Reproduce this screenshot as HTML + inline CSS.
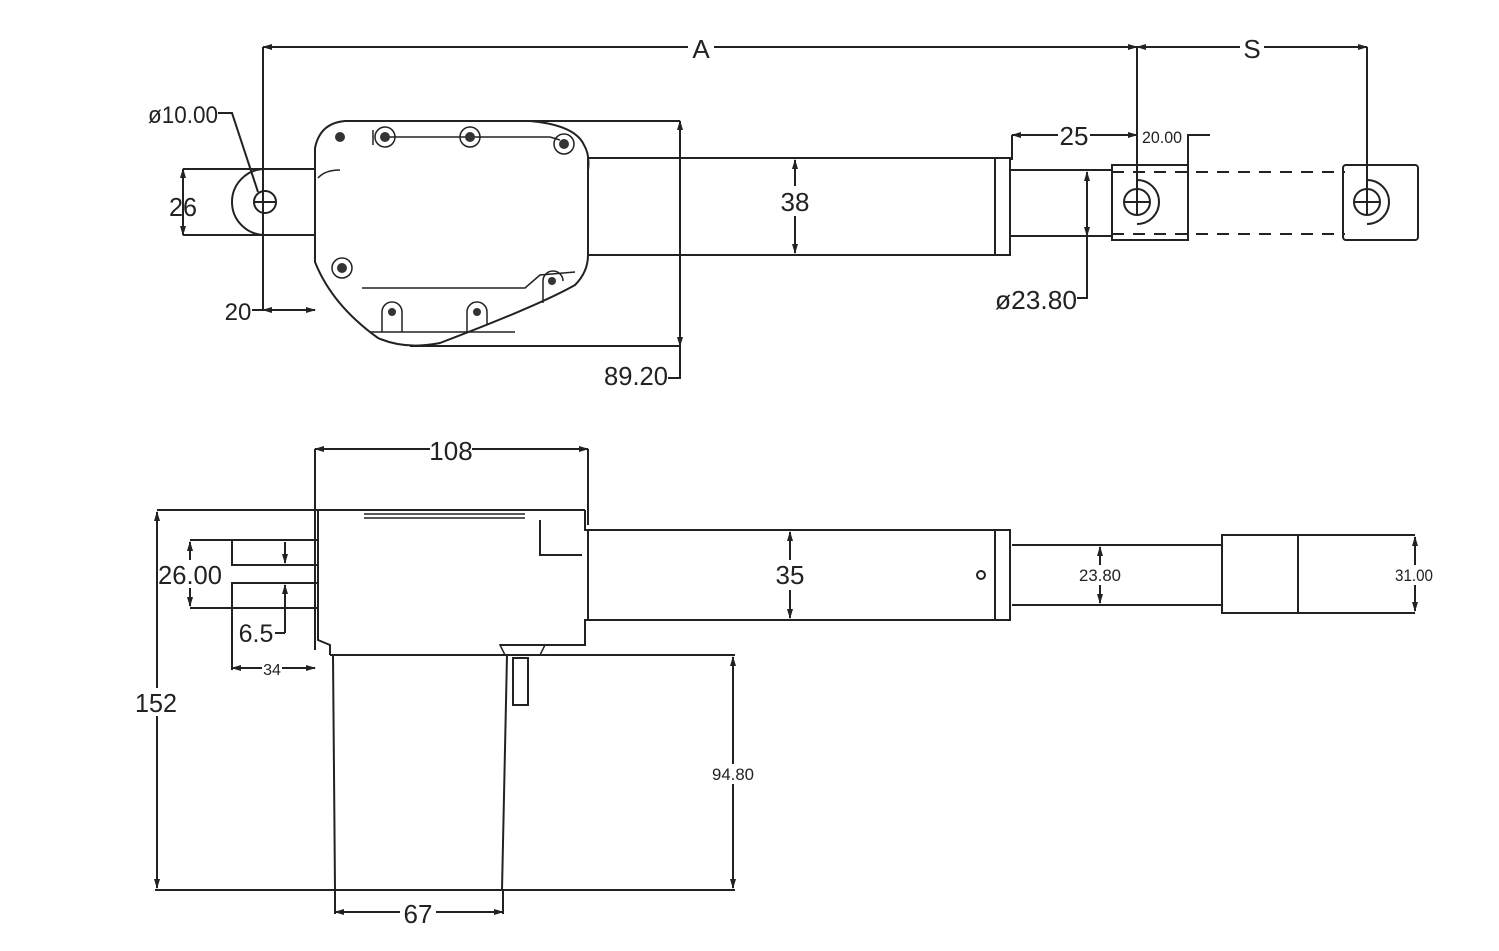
<!DOCTYPE html>
<html><head><meta charset="utf-8"><style>
html,body{margin:0;padding:0;background:#fff;}
svg{display:block;}
text{font-family:"Liberation Sans",sans-serif;fill:#222;}
</style></head><body>
<svg width="1499" height="951" viewBox="0 0 1499 951" xmlns="http://www.w3.org/2000/svg">
<defs>
<marker id="a" markerWidth="10" markerHeight="6" refX="9" refY="3" orient="auto-start-reverse" markerUnits="userSpaceOnUse"><path d="M0,0 L10,3 L0,6 Z" fill="#222"/></marker>
</defs>
<g stroke="#222" stroke-width="2" fill="none">
<!-- TOP VIEW -->
<!-- A and S -->
<line x1="263" y1="47" x2="1137" y2="47" marker-start="url(#a)" marker-end="url(#a)"/>
<line x1="1137" y1="47" x2="1367" y2="47" marker-start="url(#a)" marker-end="url(#a)"/>
<line x1="263" y1="47" x2="263" y2="310"/>
<line x1="1137" y1="47" x2="1137" y2="205"/>
<line x1="1367" y1="47" x2="1367" y2="205"/>
<!-- rear clevis -->
<line x1="183" y1="169" x2="315" y2="169"/>
<line x1="183" y1="235" x2="315" y2="235"/>
<path d="M265,169 A33,33 0 0 0 265,235"/>
<circle cx="265" cy="202" r="11"/>
<line x1="254" y1="202" x2="276" y2="202"/>
<line x1="183" y1="169" x2="183" y2="235" marker-start="url(#a)" marker-end="url(#a)"/>
<polyline points="218,113 232,113 258,192"/>
<line x1="263" y1="310" x2="315" y2="310" marker-start="url(#a)" marker-end="url(#a)"/>
<line x1="252" y1="310" x2="263" y2="310"/>
<!-- housing -->
<path d="M315,240 L315,148 Q320,123 345,121 L530,121 Q575,125 584,145 Q590,155 588,170 L588,255 Q588,272 575,285 Q540,305 440,343 Q405,350 378,338 Q332,305 315,262 Z"/>
<line x1="530" y1="121" x2="680" y2="121"/>
<line x1="410" y1="346" x2="680" y2="346"/>
<line x1="680" y1="121" x2="680" y2="346" marker-start="url(#a)" marker-end="url(#a)"/>
<polyline points="680,346 680,378 668,378"/>
<path d="M385,137 L550,137 L560,140" stroke-width="1.5"/>
<path d="M362,288 L525,288 L540,275 L575,272" stroke-width="1.5"/>
<line x1="373" y1="130" x2="373" y2="145" stroke-width="1.5"/>
<path d="M318,178 Q325,170 340,170" stroke-width="1.5"/>
<line x1="370" y1="332" x2="515" y2="332" stroke-width="1.5"/>
<g stroke-width="1.5">
<circle cx="385" cy="137" r="10"/><circle cx="470" cy="137" r="10"/><circle cx="564" cy="144" r="10"/><circle cx="342" cy="268" r="10"/>
<path d="M382,332 L382,312 A10,10 0 0 1 402,312 L402,332"/>
<path d="M467,332 L467,312 A10,10 0 0 1 487,312 L487,325"/>
<path d="M543,303 L543,281 A10,10 0 0 1 563,281"/>
</g>
<g fill="#333" stroke="none">
<circle cx="340" cy="137" r="5"/><circle cx="385" cy="137" r="5"/><circle cx="470" cy="137" r="5"/><circle cx="564" cy="144" r="5"/><circle cx="342" cy="268" r="5"/><circle cx="552" cy="281" r="4"/><circle cx="392" cy="312" r="4"/><circle cx="477" cy="312" r="4"/>
</g>
<!-- tube -->
<rect x="588" y="158" width="422" height="97"/>
<line x1="995" y1="158" x2="995" y2="255"/>
<line x1="795" y1="160" x2="795" y2="253" marker-start="url(#a)" marker-end="url(#a)"/>
<line x1="795" y1="255" x2="830" y2="255"/>
<!-- rod -->
<line x1="1010" y1="170" x2="1112" y2="170"/>
<line x1="1010" y1="236" x2="1112" y2="236"/>
<line x1="1012" y1="135" x2="1137" y2="135" marker-start="url(#a)" marker-end="url(#a)"/>
<line x1="1012" y1="135" x2="1012" y2="160"/>
<polyline points="1188,240 1188,135 1210,135"/>
<line x1="1087" y1="172" x2="1087" y2="236" marker-start="url(#a)" marker-end="url(#a)"/>
<polyline points="1087,236 1087,298 1077,298"/>
<!-- rod ends -->
<rect x="1112" y="165" width="76" height="75"/>
<circle cx="1137" cy="202" r="13"/><line x1="1124" y1="202" x2="1150" y2="202"/><line x1="1137" y1="189" x2="1137" y2="215"/>
<path d="M1137,180 A22,22 0 0 1 1137,224"/>
<rect x="1343" y="165" width="75" height="75" rx="3"/>
<circle cx="1367" cy="202" r="13"/><line x1="1354" y1="202" x2="1380" y2="202"/><line x1="1367" y1="189" x2="1367" y2="215"/>
<path d="M1367,180 A22,22 0 0 1 1367,224"/>
<line x1="1112" y1="172" x2="1345" y2="172" stroke-dasharray="12,9"/>
<line x1="1112" y1="234" x2="1345" y2="234" stroke-dasharray="12,9"/>

<!-- BOTTOM VIEW -->
<line x1="315" y1="449" x2="588" y2="449" marker-start="url(#a)" marker-end="url(#a)"/>
<line x1="315" y1="449" x2="315" y2="650"/>
<line x1="588" y1="449" x2="588" y2="525"/>
<line x1="157" y1="510" x2="585" y2="510"/>
<path d="M318,510 L318,640 L330,645 L330,655"/>
<path d="M585,510 L585,530 L588,530 L588,620 L585,620 L585,645 L500,645"/>
<line x1="364" y1="514" x2="525" y2="514" stroke-width="1.5"/>
<line x1="364" y1="518" x2="525" y2="518" stroke-width="1.5"/>
<polyline points="540,520 540,555 582,555"/>
<!-- tube -->
<rect x="588" y="530" width="422" height="90"/>
<line x1="995" y1="530" x2="995" y2="620"/>
<circle cx="981" cy="575" r="4"/>
<line x1="790" y1="532" x2="790" y2="618" marker-start="url(#a)" marker-end="url(#a)"/>
<line x1="1012" y1="545" x2="1222" y2="545"/>
<line x1="1012" y1="605" x2="1222" y2="605"/>
<line x1="1100" y1="547" x2="1100" y2="603" marker-start="url(#a)" marker-end="url(#a)"/>
<rect x="1222" y="535" width="76" height="78"/>
<line x1="1298" y1="535" x2="1415" y2="535"/>
<line x1="1298" y1="613" x2="1415" y2="613"/>
<line x1="1415" y1="537" x2="1415" y2="611" marker-start="url(#a)" marker-end="url(#a)"/>
<!-- connectors -->
<line x1="190" y1="540" x2="318" y2="540"/>
<line x1="190" y1="608" x2="318" y2="608"/>
<polyline points="232,540 232,565 318,565"/>
<polyline points="232,670 232,583 318,583"/>
<line x1="190" y1="542" x2="190" y2="606" marker-start="url(#a)" marker-end="url(#a)"/>
<line x1="285" y1="542" x2="285" y2="563" marker-end="url(#a)"/>
<line x1="285" y1="633" x2="285" y2="585" marker-end="url(#a)"/>
<line x1="275" y1="633" x2="285" y2="633"/>
<line x1="232" y1="668" x2="315" y2="668" marker-start="url(#a)" marker-end="url(#a)"/>
<!-- motor -->
<line x1="330" y1="655" x2="735" y2="655"/>
<line x1="333" y1="655" x2="335" y2="890"/>
<line x1="507" y1="655" x2="502" y2="890"/>
<line x1="155" y1="890" x2="735" y2="890"/>
<rect x="513" y="658" width="15" height="47"/>
<path d="M500,645 L545,645 L540,655 L505,655 Z" stroke-width="1.5"/>
<line x1="733" y1="657" x2="733" y2="888" marker-start="url(#a)" marker-end="url(#a)"/>
<line x1="157" y1="512" x2="157" y2="888" marker-start="url(#a)" marker-end="url(#a)"/>
<line x1="335" y1="890" x2="335" y2="914"/>
<line x1="503" y1="890" x2="503" y2="914"/>
<line x1="335" y1="912" x2="503" y2="912" marker-start="url(#a)" marker-end="url(#a)"/>
</g>
<g font-size="26" text-anchor="middle">
<rect x="688" y="35" width="26" height="24" fill="#fff"/><text x="701" y="58">A</text>
<rect x="1240" y="35" width="24" height="24" fill="#fff"/><text x="1252" y="58">S</text>
<text x="183" y="216" textLength="28" lengthAdjust="spacingAndGlyphs">26</text>
<text x="183" y="123" font-size="24" textLength="70" lengthAdjust="spacingAndGlyphs">ø10.00</text>
<text x="238" y="320" font-size="24">20</text>
<text x="636" y="385" textLength="64" lengthAdjust="spacingAndGlyphs">89.20</text>
<rect x="778" y="186" width="34" height="30" fill="#fff"/><text x="795" y="211">38</text>
<rect x="1058" y="122" width="32" height="26" fill="#fff"/><text x="1074" y="145">25</text>
<text x="1162" y="143" font-size="17" textLength="40" lengthAdjust="spacingAndGlyphs">20.00</text>
<text x="1036" y="309" textLength="82" lengthAdjust="spacingAndGlyphs">ø23.80</text>
<rect x="430" y="437" width="42" height="26" fill="#fff"/><text x="451" y="460">108</text>
<rect x="772" y="560" width="36" height="30" fill="#fff"/><text x="790" y="584">35</text>
<rect x="1080" y="565" width="40" height="20" fill="#fff"/><text x="1100" y="581" font-size="17" textLength="42" lengthAdjust="spacingAndGlyphs">23.80</text>
<rect x="1396" y="565" width="38" height="20" fill="#fff"/><text x="1414" y="581" font-size="17" textLength="38" lengthAdjust="spacingAndGlyphs">31.00</text>
<rect x="158" y="560" width="64" height="28" fill="#fff"/><text x="190" y="584" textLength="64" lengthAdjust="spacingAndGlyphs">26.00</text>
<text x="256" y="642" font-size="25">6.5</text>
<rect x="262" y="660" width="20" height="18" fill="#fff"/><text x="272" y="675" font-size="16">34</text>
<rect x="138" y="688" width="40" height="28" fill="#fff"/><text x="156" y="712" textLength="42" lengthAdjust="spacingAndGlyphs">152</text>
<rect x="712" y="764" width="42" height="20" fill="#fff"/><text x="733" y="780" font-size="17" textLength="42" lengthAdjust="spacingAndGlyphs">94.80</text>
<rect x="400" y="900" width="36" height="26" fill="#fff"/><text x="418" y="923">67</text>
</g>
</svg>
</body></html>
